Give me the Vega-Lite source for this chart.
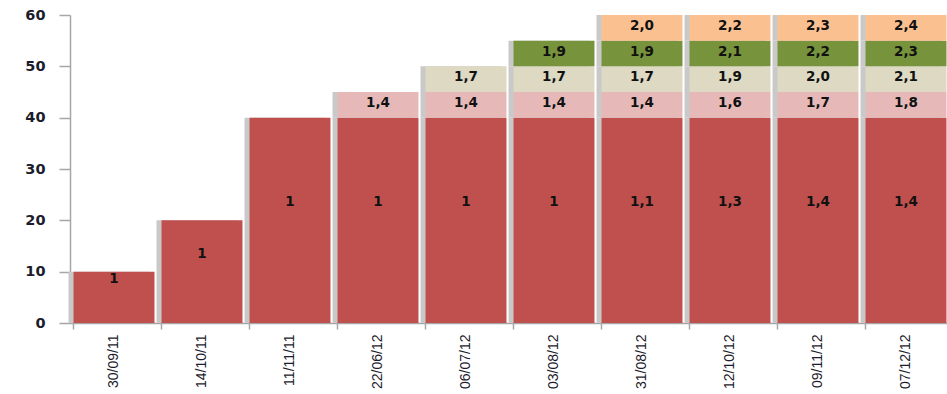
{
  "$schema": "https://vega.github.io/schema/vega-lite/v6.json",
  "width": 880,
  "height": 308,
  "autosize": {"type": "none"},
  "padding": {"left": 70, "top": 15, "right": 0, "bottom": 71},
  "background": "white",
  "config": {
    "view": {"stroke": null},
    "font": "Liberation Sans",
    "axisY": {
      "values": [0, 10, 20, 30, 40, 50, 60],
      "grid": false,
      "labelFont": "DejaVu Sans",
      "labelFontSize": 14.5,
      "labelFontWeight": "bold",
      "labelColor": "#1c1c2c",
      "labelPadding": 14,
      "tickSize": 11,
      "tickColor": "#a6a6a6",
      "tickWidth": 1.5,
      "domainColor": "#a6a6a6",
      "domainWidth": 1.5
    },
    "axisX": {
      "grid": false,
      "domainColor": "#a6a6a6",
      "domainWidth": 1.5,
      "tickColor": "#a6a6a6",
      "tickWidth": 1.5
    }
  },
  "data": {
    "values": [
      {"date": "30/09/11", "seg": "s1", "order": 1, "value": 10, "label": "1"},
      {"date": "14/10/11", "seg": "s1", "order": 1, "value": 20, "label": "1"},
      {"date": "11/11/11", "seg": "s1", "order": 1, "value": 40, "label": "1"},
      {"date": "22/06/12", "seg": "s1", "order": 1, "value": 40, "label": "1"},
      {"date": "22/06/12", "seg": "s2", "order": 2, "value": 5, "label": "1,4"},
      {"date": "06/07/12", "seg": "s1", "order": 1, "value": 40, "label": "1"},
      {"date": "06/07/12", "seg": "s2", "order": 2, "value": 5, "label": "1,4"},
      {"date": "06/07/12", "seg": "s3", "order": 3, "value": 5, "label": "1,7"},
      {"date": "03/08/12", "seg": "s1", "order": 1, "value": 40, "label": "1"},
      {"date": "03/08/12", "seg": "s2", "order": 2, "value": 5, "label": "1,4"},
      {"date": "03/08/12", "seg": "s3", "order": 3, "value": 5, "label": "1,7"},
      {"date": "03/08/12", "seg": "s4", "order": 4, "value": 5, "label": "1,9"},
      {"date": "31/08/12", "seg": "s1", "order": 1, "value": 40, "label": "1,1"},
      {"date": "31/08/12", "seg": "s2", "order": 2, "value": 5, "label": "1,4"},
      {"date": "31/08/12", "seg": "s3", "order": 3, "value": 5, "label": "1,7"},
      {"date": "31/08/12", "seg": "s4", "order": 4, "value": 5, "label": "1,9"},
      {"date": "31/08/12", "seg": "s5", "order": 5, "value": 5, "label": "2,0"},
      {"date": "12/10/12", "seg": "s1", "order": 1, "value": 40, "label": "1,3"},
      {"date": "12/10/12", "seg": "s2", "order": 2, "value": 5, "label": "1,6"},
      {"date": "12/10/12", "seg": "s3", "order": 3, "value": 5, "label": "1,9"},
      {"date": "12/10/12", "seg": "s4", "order": 4, "value": 5, "label": "2,1"},
      {"date": "12/10/12", "seg": "s5", "order": 5, "value": 5, "label": "2,2"},
      {"date": "09/11/12", "seg": "s1", "order": 1, "value": 40, "label": "1,4"},
      {"date": "09/11/12", "seg": "s2", "order": 2, "value": 5, "label": "1,7"},
      {"date": "09/11/12", "seg": "s3", "order": 3, "value": 5, "label": "2,0"},
      {"date": "09/11/12", "seg": "s4", "order": 4, "value": 5, "label": "2,2"},
      {"date": "09/11/12", "seg": "s5", "order": 5, "value": 5, "label": "2,3"},
      {"date": "07/12/12", "seg": "s1", "order": 1, "value": 40, "label": "1,4"},
      {"date": "07/12/12", "seg": "s2", "order": 2, "value": 5, "label": "1,8"},
      {"date": "07/12/12", "seg": "s3", "order": 3, "value": 5, "label": "2,1"},
      {"date": "07/12/12", "seg": "s4", "order": 4, "value": 5, "label": "2,3"},
      {"date": "07/12/12", "seg": "s5", "order": 5, "value": 5, "label": "2,4"}
    ]
  },
  "transform": [
    {"stack": "value", "groupby": ["date"], "sort": [{"field": "order"}], "as": ["y0", "y1"]},
    {"calculate": "(datum.y0 + datum.y1) / 2", "as": "ymid"}
  ],
  "resolve": {"axis": {"x": "independent"}},
  "layer": [
    {
      "mark": {"type": "bar", "color": "#c9c9c9", "xOffset": -5},
      "encoding": {
        "x": {"field": "date", "type": "nominal", "sort": null, "scale": {"paddingInner": 0.08, "paddingOuter": 0.04}, "axis": null},
        "y": {"field": "y0", "type": "quantitative", "scale": {"domain": [0, 60]}, "title": null},
        "y2": {"field": "y1"}
      }
    },
    {
      "mark": {"type": "bar"},
      "encoding": {
        "x": {
          "field": "date",
          "type": "nominal",
          "sort": null,
          "title": null,
          "axis": {
            "orient": "bottom",
            "labelAngle": -90,
            "labelFontSize": 14,
            "labelColor": "#1c1c2c",
            "labelPadding": 11,
            "ticks": false
          }
        },
        "y": {"field": "y0", "type": "quantitative", "title": null},
        "y2": {"field": "y1"},
        "color": {
          "field": "seg",
          "type": "nominal",
          "legend": null,
          "scale": {
            "domain": ["s1", "s2", "s3", "s4", "s5"],
            "range": ["#c0504d", "#e6b9b8", "#ddd9c3", "#77933c", "#fac090"]
          }
        }
      }
    },
    {
      "mark": {"type": "rule", "opacity": 0},
      "encoding": {
        "x": {
          "field": "date",
          "type": "nominal",
          "sort": null,
          "title": null,
          "axis": {
            "orient": "bottom",
            "labels": false,
            "domain": false,
            "ticks": true,
            "bandPosition": 0,
            "tickSize": 6
          }
        }
      }
    },
    {
      "transform": [{"filter": "datum.seg == 's1'"}],
      "mark": {"type": "text", "font": "DejaVu Sans", "fontWeight": "bold", "fontSize": 13.5, "color": "#111111", "dy": -18},
      "encoding": {
        "x": {"field": "date", "type": "nominal", "sort": null, "axis": null},
        "y": {"field": "ymid", "type": "quantitative", "title": null},
        "text": {"field": "label"}
      }
    },
    {
      "transform": [{"filter": "datum.seg != 's1'"}],
      "mark": {"type": "text", "font": "DejaVu Sans", "fontWeight": "bold", "fontSize": 13.5, "color": "#111111", "dy": -2},
      "encoding": {
        "x": {"field": "date", "type": "nominal", "sort": null, "axis": null},
        "y": {"field": "ymid", "type": "quantitative", "title": null},
        "text": {"field": "label"}
      }
    }
  ]
}
